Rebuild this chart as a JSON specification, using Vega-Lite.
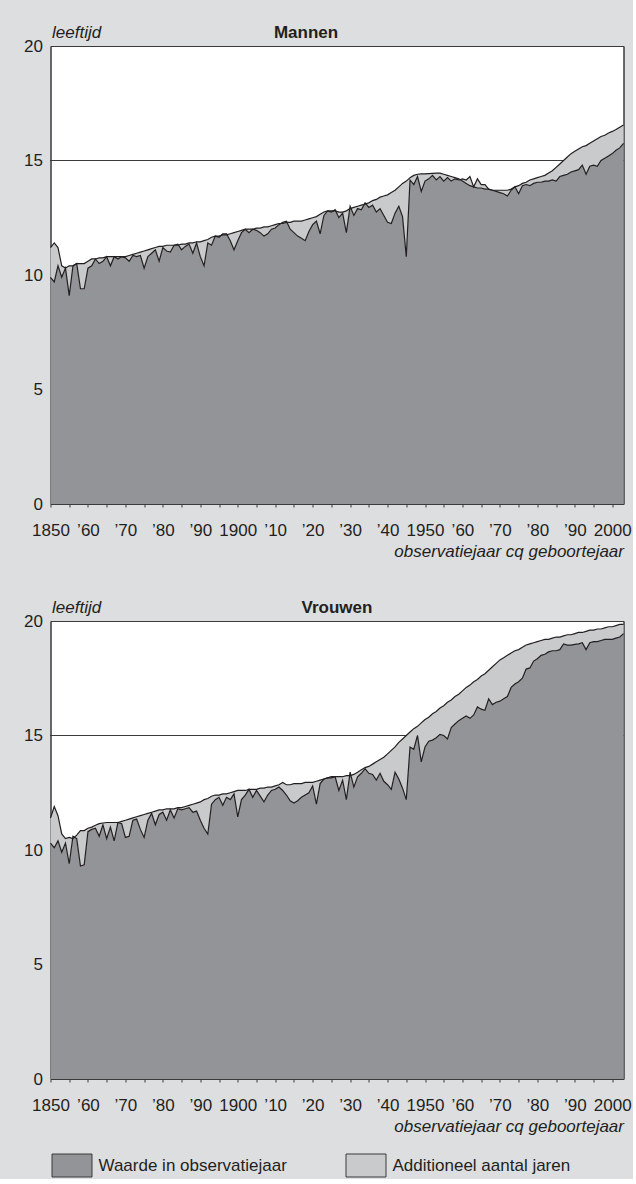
{
"$schema": "https://vega.github.io/schema/vega-lite/v6.json",
"background": "#dddee0",
"padding": {"left": 22.5, "top": 22, "right": 0, "bottom": 0},
"config": {
  "font": "Liberation Sans",
  "view": {"stroke": "#3a3a3a", "strokeWidth": 1, "fill": "white"},
  "axis": {"labelFont": "Liberation Sans", "labelFontSize": 17, "labelColor": "#231f20", "titleFont": "Liberation Sans", "titleFontSize": 17, "titleColor": "#231f20", "domainColor": "#3a3a3a", "tickColor": "#3a3a3a", "grid": false, "zindex": 1},
  "legend": {"labelFont": "Liberation Sans", "labelFontSize": 17, "labelColor": "#231f20", "labelLimit": 0}
},
"datasets": {
"m": [
{"year":1850,"p":9.9,"c":11.2},{"year":1851,"p":9.7,"c":11.4},{"year":1852,"p":10.4,"c":11.2},{"year":1853,"p":9.9,"c":10.4},{"year":1854,"p":10.3,"c":10.3},{"year":1855,"p":9.1,"c":10.4},{"year":1856,"p":10.4,"c":10.4},{"year":1857,"p":10.5,"c":10.5},{"year":1858,"p":9.4,"c":10.5},{"year":1859,"p":9.4,"c":10.5},
{"year":1860,"p":10.3,"c":10.6},{"year":1861,"p":10.4,"c":10.7},{"year":1862,"p":10.7,"c":10.7},{"year":1863,"p":10.5,"c":10.75},{"year":1864,"p":10.6,"c":10.75},{"year":1865,"p":10.8,"c":10.8},{"year":1866,"p":10.4,"c":10.8},{"year":1867,"p":10.8,"c":10.8},{"year":1868,"p":10.7,"c":10.8},{"year":1869,"p":10.8,"c":10.8},
{"year":1870,"p":10.75,"c":10.8},{"year":1871,"p":10.6,"c":10.85},{"year":1872,"p":10.85,"c":10.9},{"year":1873,"p":10.8,"c":10.95},{"year":1874,"p":10.85,"c":11.0},{"year":1875,"p":10.3,"c":11.05},{"year":1876,"p":10.8,"c":11.1},{"year":1877,"p":10.95,"c":11.15},{"year":1878,"p":11.1,"c":11.2},{"year":1879,"p":10.6,"c":11.25},
{"year":1880,"p":11.2,"c":11.25},{"year":1881,"p":11.05,"c":11.3},{"year":1882,"p":11.0,"c":11.3},{"year":1883,"p":11.3,"c":11.3},{"year":1884,"p":11.35,"c":11.3},{"year":1885,"p":11.1,"c":11.35},{"year":1886,"p":11.25,"c":11.35},{"year":1887,"p":11.35,"c":11.4},{"year":1888,"p":10.95,"c":11.4},{"year":1889,"p":11.4,"c":11.45},
{"year":1890,"p":10.8,"c":11.45},{"year":1891,"p":10.4,"c":11.5},{"year":1892,"p":11.4,"c":11.55},{"year":1893,"p":11.3,"c":11.65},{"year":1894,"p":11.7,"c":11.7},{"year":1895,"p":11.65,"c":11.7},{"year":1896,"p":11.8,"c":11.75},{"year":1897,"p":11.8,"c":11.75},{"year":1898,"p":11.5,"c":11.8},{"year":1899,"p":11.1,"c":11.85},
{"year":1900,"p":11.5,"c":11.9},{"year":1901,"p":11.85,"c":11.95},{"year":1902,"p":12.0,"c":12.0},{"year":1903,"p":11.85,"c":12.0},{"year":1904,"p":12.0,"c":12.0},{"year":1905,"p":11.95,"c":12.05},{"year":1906,"p":11.85,"c":12.05},{"year":1907,"p":11.7,"c":12.1},{"year":1908,"p":11.8,"c":12.1},{"year":1909,"p":12.0,"c":12.15},
{"year":1910,"p":12.05,"c":12.2},{"year":1911,"p":12.2,"c":12.25},{"year":1912,"p":12.3,"c":12.25},{"year":1913,"p":12.35,"c":12.3},{"year":1914,"p":12.0,"c":12.3},{"year":1915,"p":11.85,"c":12.35},{"year":1916,"p":11.7,"c":12.35},{"year":1917,"p":11.6,"c":12.35},{"year":1918,"p":11.5,"c":12.4},{"year":1919,"p":11.9,"c":12.45},
{"year":1920,"p":12.2,"c":12.5},{"year":1921,"p":12.35,"c":12.55},{"year":1922,"p":11.8,"c":12.65},{"year":1923,"p":12.6,"c":12.75},{"year":1924,"p":12.8,"c":12.8},{"year":1925,"p":12.75,"c":12.8},{"year":1926,"p":12.85,"c":12.8},{"year":1927,"p":12.5,"c":12.75},{"year":1928,"p":12.7,"c":12.75},{"year":1929,"p":11.85,"c":12.8},
{"year":1930,"p":13.0,"c":12.9},{"year":1931,"p":12.6,"c":12.95},{"year":1932,"p":12.9,"c":13.0},{"year":1933,"p":12.85,"c":13.05},{"year":1934,"p":13.15,"c":13.1},{"year":1935,"p":12.95,"c":13.15},{"year":1936,"p":13.05,"c":13.25},{"year":1937,"p":12.75,"c":13.3},{"year":1938,"p":12.9,"c":13.4},{"year":1939,"p":12.6,"c":13.45},
{"year":1940,"p":12.3,"c":13.5},{"year":1941,"p":12.25,"c":13.6},{"year":1942,"p":12.7,"c":13.7},{"year":1943,"p":13.0,"c":13.85},{"year":1944,"p":12.55,"c":14.0},{"year":1945,"p":10.8,"c":14.1},{"year":1946,"p":14.15,"c":14.25},{"year":1947,"p":13.95,"c":14.35},{"year":1948,"p":14.3,"c":14.4},{"year":1949,"p":13.65,"c":14.42},
{"year":1950,"p":14.1,"c":14.42},{"year":1951,"p":14.2,"c":14.43},{"year":1952,"p":14.35,"c":14.44},{"year":1953,"p":14.15,"c":14.45},{"year":1954,"p":14.3,"c":14.45},{"year":1955,"p":14.1,"c":14.4},{"year":1956,"p":14.25,"c":14.35},{"year":1957,"p":14.1,"c":14.3},{"year":1958,"p":14.2,"c":14.25},{"year":1959,"p":14.15,"c":14.2},
{"year":1960,"p":14.2,"c":14.1},{"year":1961,"p":14.15,"c":14.0},{"year":1962,"p":14.3,"c":13.9},{"year":1963,"p":13.85,"c":13.85},{"year":1964,"p":14.2,"c":13.8},{"year":1965,"p":13.95,"c":13.8},{"year":1966,"p":13.95,"c":13.75},{"year":1967,"p":13.75,"c":13.75},{"year":1968,"p":13.7,"c":13.7},{"year":1969,"p":13.65,"c":13.7},
{"year":1970,"p":13.6,"c":13.7},{"year":1971,"p":13.55,"c":13.7},{"year":1972,"p":13.45,"c":13.7},{"year":1973,"p":13.7,"c":13.75},{"year":1974,"p":13.85,"c":13.85},{"year":1975,"p":13.55,"c":13.9},{"year":1976,"p":13.9,"c":14.0},{"year":1977,"p":13.95,"c":14.05},{"year":1978,"p":13.9,"c":14.15},{"year":1979,"p":14.0,"c":14.2},
{"year":1980,"p":14.05,"c":14.25},{"year":1981,"p":14.05,"c":14.3},{"year":1982,"p":14.1,"c":14.35},{"year":1983,"p":14.1,"c":14.45},{"year":1984,"p":14.15,"c":14.55},{"year":1985,"p":14.1,"c":14.7},{"year":1986,"p":14.3,"c":14.85},{"year":1987,"p":14.35,"c":15.0},{"year":1988,"p":14.4,"c":15.15},{"year":1989,"p":14.5,"c":15.3},
{"year":1990,"p":14.55,"c":15.4},{"year":1991,"p":14.6,"c":15.5},{"year":1992,"p":14.8,"c":15.6},{"year":1993,"p":14.4,"c":15.65},{"year":1994,"p":14.75,"c":15.75},{"year":1995,"p":14.8,"c":15.85},{"year":1996,"p":14.75,"c":15.95},{"year":1997,"p":15.0,"c":16.05},{"year":1998,"p":15.1,"c":16.1},{"year":1999,"p":15.2,"c":16.2},
{"year":2000,"p":15.3,"c":16.27},{"year":2001,"p":15.45,"c":16.35},{"year":2002,"p":15.55,"c":16.45},{"year":2003,"p":15.75,"c":16.55}
],
"v": [
{"year":1850,"p":10.3,"c":11.4},{"year":1851,"p":10.1,"c":11.9},{"year":1852,"p":10.4,"c":11.5},{"year":1853,"p":9.9,"c":10.7},{"year":1854,"p":10.3,"c":10.5},{"year":1855,"p":9.4,"c":10.55},{"year":1856,"p":10.6,"c":10.5},{"year":1857,"p":10.5,"c":10.65},{"year":1858,"p":9.3,"c":10.85},{"year":1859,"p":9.35,"c":10.85},
{"year":1860,"p":10.8,"c":10.95},{"year":1861,"p":10.9,"c":11.0},{"year":1862,"p":10.95,"c":11.08},{"year":1863,"p":10.6,"c":11.15},{"year":1864,"p":11.1,"c":11.18},{"year":1865,"p":10.5,"c":11.2},{"year":1866,"p":11.0,"c":11.2},{"year":1867,"p":10.4,"c":11.2},{"year":1868,"p":11.2,"c":11.2},{"year":1869,"p":11.15,"c":11.25},
{"year":1870,"p":10.55,"c":11.3},{"year":1871,"p":10.6,"c":11.35},{"year":1872,"p":11.3,"c":11.4},{"year":1873,"p":11.35,"c":11.45},{"year":1874,"p":10.9,"c":11.5},{"year":1875,"p":10.55,"c":11.55},{"year":1876,"p":11.3,"c":11.6},{"year":1877,"p":11.6,"c":11.65},{"year":1878,"p":11.1,"c":11.7},{"year":1879,"p":11.55,"c":11.75},
{"year":1880,"p":11.65,"c":11.75},{"year":1881,"p":11.3,"c":11.8},{"year":1882,"p":11.75,"c":11.8},{"year":1883,"p":11.4,"c":11.8},{"year":1884,"p":11.8,"c":11.85},{"year":1885,"p":11.75,"c":11.85},{"year":1886,"p":11.8,"c":11.9},{"year":1887,"p":11.85,"c":11.95},{"year":1888,"p":11.65,"c":12.0},{"year":1889,"p":11.7,"c":12.05},
{"year":1890,"p":11.3,"c":12.1},{"year":1891,"p":10.95,"c":12.2},{"year":1892,"p":10.7,"c":12.25},{"year":1893,"p":12.0,"c":12.35},{"year":1894,"p":12.2,"c":12.4},{"year":1895,"p":12.3,"c":12.4},{"year":1896,"p":11.95,"c":12.45},{"year":1897,"p":12.3,"c":12.45},{"year":1898,"p":12.2,"c":12.5},{"year":1899,"p":12.45,"c":12.55},
{"year":1900,"p":11.45,"c":12.6},{"year":1901,"p":12.2,"c":12.6},{"year":1902,"p":12.4,"c":12.6},{"year":1903,"p":12.65,"c":12.65},{"year":1904,"p":12.3,"c":12.65},{"year":1905,"p":12.6,"c":12.65},{"year":1906,"p":12.35,"c":12.7},{"year":1907,"p":12.1,"c":12.7},{"year":1908,"p":12.4,"c":12.75},{"year":1909,"p":12.6,"c":12.75},
{"year":1910,"p":12.65,"c":12.8},{"year":1911,"p":12.75,"c":12.85},{"year":1912,"p":12.6,"c":12.95},{"year":1913,"p":12.4,"c":12.85},{"year":1914,"p":12.15,"c":12.85},{"year":1915,"p":12.05,"c":12.9},{"year":1916,"p":12.15,"c":12.9},{"year":1917,"p":12.3,"c":12.9},{"year":1918,"p":12.4,"c":12.95},{"year":1919,"p":12.5,"c":12.95},
{"year":1920,"p":12.8,"c":12.95},{"year":1921,"p":12.0,"c":13.0},{"year":1922,"p":12.9,"c":13.05},{"year":1923,"p":13.1,"c":13.1},{"year":1924,"p":13.15,"c":13.15},{"year":1925,"p":13.2,"c":13.15},{"year":1926,"p":13.2,"c":13.2},{"year":1927,"p":12.6,"c":13.2},{"year":1928,"p":13.05,"c":13.2},{"year":1929,"p":12.2,"c":13.25},
{"year":1930,"p":13.4,"c":13.25},{"year":1931,"p":12.75,"c":13.3},{"year":1932,"p":13.2,"c":13.4},{"year":1933,"p":13.35,"c":13.5},{"year":1934,"p":13.55,"c":13.6},{"year":1935,"p":13.35,"c":13.65},{"year":1936,"p":13.3,"c":13.75},{"year":1937,"p":13.05,"c":13.85},{"year":1938,"p":13.35,"c":13.95},{"year":1939,"p":13.0,"c":14.05},
{"year":1940,"p":12.85,"c":14.2},{"year":1941,"p":12.65,"c":14.35},{"year":1942,"p":13.4,"c":14.5},{"year":1943,"p":13.1,"c":14.7},{"year":1944,"p":12.7,"c":14.85},{"year":1945,"p":12.2,"c":15.0},{"year":1946,"p":14.5,"c":15.15},{"year":1947,"p":14.4,"c":15.3},{"year":1948,"p":15.0,"c":15.4},{"year":1949,"p":13.85,"c":15.55},
{"year":1950,"p":14.5,"c":15.7},{"year":1951,"p":14.75,"c":15.8},{"year":1952,"p":14.8,"c":15.95},{"year":1953,"p":14.9,"c":16.05},{"year":1954,"p":15.05,"c":16.2},{"year":1955,"p":15.0,"c":16.3},{"year":1956,"p":14.85,"c":16.45},{"year":1957,"p":15.35,"c":16.55},{"year":1958,"p":15.5,"c":16.7},{"year":1959,"p":15.65,"c":16.8},
{"year":1960,"p":15.75,"c":16.95},{"year":1961,"p":15.85,"c":17.1},{"year":1962,"p":15.75,"c":17.2},{"year":1963,"p":15.9,"c":17.35},{"year":1964,"p":16.25,"c":17.45},{"year":1965,"p":16.15,"c":17.6},{"year":1966,"p":16.1,"c":17.7},{"year":1967,"p":16.6,"c":17.85},{"year":1968,"p":16.35,"c":18.0},{"year":1969,"p":16.45,"c":18.15},
{"year":1970,"p":16.5,"c":18.3},{"year":1971,"p":16.6,"c":18.4},{"year":1972,"p":16.7,"c":18.5},{"year":1973,"p":17.1,"c":18.6},{"year":1974,"p":17.25,"c":18.7},{"year":1975,"p":17.35,"c":18.75},{"year":1976,"p":17.5,"c":18.85},{"year":1977,"p":17.9,"c":18.95},{"year":1978,"p":17.95,"c":19.0},{"year":1979,"p":18.25,"c":19.05},
{"year":1980,"p":18.35,"c":19.1},{"year":1981,"p":18.5,"c":19.15},{"year":1982,"p":18.55,"c":19.2},{"year":1983,"p":18.65,"c":19.2},{"year":1984,"p":18.7,"c":19.25},{"year":1985,"p":18.7,"c":19.3},{"year":1986,"p":18.75,"c":19.3},{"year":1987,"p":19.0,"c":19.35},{"year":1988,"p":18.95,"c":19.4},{"year":1989,"p":18.95,"c":19.4},
{"year":1990,"p":18.98,"c":19.45},{"year":1991,"p":19.0,"c":19.5},{"year":1992,"p":19.05,"c":19.5},{"year":1993,"p":18.75,"c":19.55},{"year":1994,"p":19.05,"c":19.6},{"year":1995,"p":19.1,"c":19.6},{"year":1996,"p":19.1,"c":19.65},{"year":1997,"p":19.15,"c":19.65},{"year":1998,"p":19.2,"c":19.7},{"year":1999,"p":19.2,"c":19.75},
{"year":2000,"p":19.2,"c":19.75},{"year":2001,"p":19.25,"c":19.8},{"year":2002,"p":19.3,"c":19.85},{"year":2003,"p":19.45,"c":19.85}
]
},
"spacing": 37,
"resolve": {"scale": {"color": "shared"}, "legend": {"color": "shared"}},
"vconcat": [
{
  "width": 573, "height": 458,
  "data": {"name": "m"},
  "resolve": {"axis": {"x": "independent", "y": "independent"}},
  "layer": [
    {"mark": {"type": "rule", "color": "#3a3a3a", "strokeWidth": 1},
     "encoding": {"y": {"datum": 15, "type": "quantitative", "scale": {"domain": [0, 20], "nice": false}, "axis": null}}},
    {"mark": {"type": "area", "opacity": 1},
     "encoding": {
       "x": {"field": "year", "type": "quantitative", "scale": {"domain": [1850, 2003], "nice": false, "zero": false},
             "axis": {"orient": "bottom", "values": [1850,1855,1860,1865,1870,1875,1880,1885,1890,1895,1900,1905,1910,1915,1920,1925,1930,1935,1940,1945,1950,1955,1960,1965,1970,1975,1980,1985,1990,1995,2000],
                      "labelExpr": "datum.value % 10 != 0 ? '' : (datum.value % 50 == 0 ? toString(datum.value) : '’' + toString(datum.value % 100))",
                      "labelOverlap": false, "labelFlush": false, "tickSize": 3, "labelPadding": 15,
                      "title": "observatiejaar cq geboortejaar", "titleFontStyle": "italic", "titleFontWeight": "normal", "titleAlign": "right", "titleAnchor": "end", "titleX": 573, "titleY": 52, "titleBaseline": "alphabetic"}},
       "y": {"field": "p", "type": "quantitative", "scale": {"domain": [0, 20], "nice": false},
             "axis": {"orient": "left", "values": [0, 5, 10, 15, 20], "ticks": false, "tickSize": 0, "labelPadding": 8,
                      "title": "leeftijd", "titleAngle": 0, "titleAlign": "left", "titleBaseline": "alphabetic", "titleX": 1, "titleY": -9, "titleFontStyle": "italic", "titleFontWeight": "normal"}},
       "color": {"datum": "Waarde in observatiejaar", "type": "nominal",
                 "scale": {"domain": ["Waarde in observatiejaar", "Additioneel aantal jaren"], "range": ["#939498", "#c9cacc"]},
                 "legend": {"orient": "none", "legendX": 1, "legendY": 1099, "direction": "horizontal", "title": null, "padding": 0,
                            "symbolType": "M-1,-0.575H1V0.575H-1Z", "symbolSize": 1600, "symbolStrokeColor": "#3a3a3a", "symbolStrokeWidth": 1, "symbolOpacity": 1,
                            "labelOffset": 6, "labelLimit": 0, "columnPadding": 56, "gridAlign": "all"}}
     }},
    {"mark": {"type": "area", "opacity": 1},
     "encoding": {
       "x": {"field": "year", "type": "quantitative",
             "axis": {"orient": "top", "labels": false, "ticks": false, "title": "Mannen", "titleFontWeight": "bold", "titleAlign": "center", "titleX": 255, "titleY": -9, "titleBaseline": "alphabetic"}},
       "y": {"field": "c", "type": "quantitative", "axis": {"orient": "right", "labels": false, "ticks": false, "title": null}},
       "y2": {"field": "p"},
       "color": {"datum": "Additioneel aantal jaren", "type": "nominal"}
     }},
    {"mark": {"type": "line", "color": "#231f20", "strokeWidth": 1.2},
     "encoding": {"x": {"field": "year", "type": "quantitative", "axis": null}, "y": {"field": "p", "type": "quantitative", "axis": null}}},
    {"mark": {"type": "line", "color": "#231f20", "strokeWidth": 1.2},
     "encoding": {"x": {"field": "year", "type": "quantitative", "axis": null}, "y": {"field": "c", "type": "quantitative", "axis": null}}}
  ]
},
{
  "width": 573, "height": 458,
  "data": {"name": "v"},
  "resolve": {"axis": {"x": "independent", "y": "independent"}},
  "layer": [
    {"mark": {"type": "rule", "color": "#3a3a3a", "strokeWidth": 1},
     "encoding": {"y": {"datum": 15, "type": "quantitative", "scale": {"domain": [0, 20], "nice": false}, "axis": null}}},
    {"mark": {"type": "area", "opacity": 1},
     "encoding": {
       "x": {"field": "year", "type": "quantitative", "scale": {"domain": [1850, 2003], "nice": false, "zero": false},
             "axis": {"orient": "bottom", "values": [1850,1855,1860,1865,1870,1875,1880,1885,1890,1895,1900,1905,1910,1915,1920,1925,1930,1935,1940,1945,1950,1955,1960,1965,1970,1975,1980,1985,1990,1995,2000],
                      "labelExpr": "datum.value % 10 != 0 ? '' : (datum.value % 50 == 0 ? toString(datum.value) : '’' + toString(datum.value % 100))",
                      "labelOverlap": false, "labelFlush": false, "tickSize": 3, "labelPadding": 15,
                      "title": "observatiejaar cq geboortejaar", "titleFontStyle": "italic", "titleFontWeight": "normal", "titleAlign": "right", "titleAnchor": "end", "titleX": 573, "titleY": 52, "titleBaseline": "alphabetic"}},
       "y": {"field": "p", "type": "quantitative", "scale": {"domain": [0, 20], "nice": false},
             "axis": {"orient": "left", "values": [0, 5, 10, 15, 20], "ticks": false, "tickSize": 0, "labelPadding": 8,
                      "title": "leeftijd", "titleAngle": 0, "titleAlign": "left", "titleBaseline": "alphabetic", "titleX": 1, "titleY": -9, "titleFontStyle": "italic", "titleFontWeight": "normal"}},
       "color": {"datum": "Waarde in observatiejaar", "type": "nominal",
                 "scale": {"domain": ["Waarde in observatiejaar", "Additioneel aantal jaren"], "range": ["#939498", "#c9cacc"]},
                 "legend": {"orient": "none", "legendX": 1, "legendY": 1099, "direction": "horizontal", "title": null, "padding": 0,
                            "symbolType": "M-1,-0.575H1V0.575H-1Z", "symbolSize": 1600, "symbolStrokeColor": "#3a3a3a", "symbolStrokeWidth": 1, "symbolOpacity": 1,
                            "labelOffset": 6, "labelLimit": 0, "columnPadding": 56, "gridAlign": "all"}}
     }},
    {"mark": {"type": "area", "opacity": 1},
     "encoding": {
       "x": {"field": "year", "type": "quantitative",
             "axis": {"orient": "top", "labels": false, "ticks": false, "title": "Vrouwen", "titleFontWeight": "bold", "titleAlign": "center", "titleX": 286, "titleY": -9, "titleBaseline": "alphabetic"}},
       "y": {"field": "c", "type": "quantitative", "axis": {"orient": "right", "labels": false, "ticks": false, "title": null}},
       "y2": {"field": "p"},
       "color": {"datum": "Additioneel aantal jaren", "type": "nominal"}
     }},
    {"mark": {"type": "line", "color": "#231f20", "strokeWidth": 1.2},
     "encoding": {"x": {"field": "year", "type": "quantitative", "axis": null}, "y": {"field": "p", "type": "quantitative", "axis": null}}},
    {"mark": {"type": "line", "color": "#231f20", "strokeWidth": 1.2},
     "encoding": {"x": {"field": "year", "type": "quantitative", "axis": null}, "y": {"field": "c", "type": "quantitative", "axis": null}}}
  ]
}
]
}
